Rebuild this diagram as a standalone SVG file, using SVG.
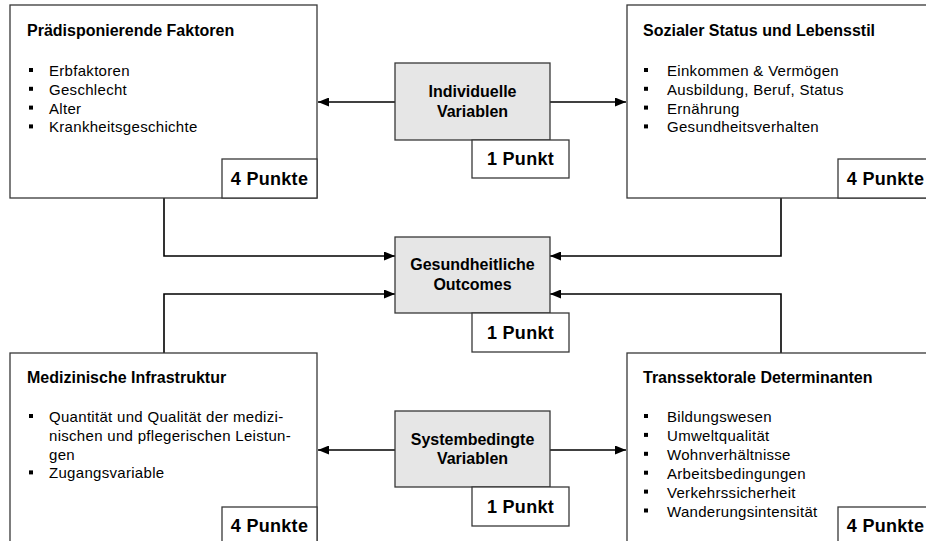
<svg xmlns="http://www.w3.org/2000/svg" width="926" height="541" viewBox="0 0 926 541">
<defs>
<style>
.box{fill:#ffffff;stroke:#383838;stroke-width:1.3}
.grey{fill:#e6e6e6;stroke:#383838;stroke-width:1.3}
.pts{fill:#ffffff;stroke:#383838;stroke-width:1.3}
.title{font-family:"Liberation Sans",Arial,sans-serif;font-size:16px;font-weight:bold;fill:#000}
.item{font-family:"Liberation Sans",Arial,sans-serif;font-size:15px;letter-spacing:0.3px;fill:#000}
.ctr{font-family:"Liberation Sans",Arial,sans-serif;font-size:16px;font-weight:bold;fill:#000;text-anchor:middle}
.ptxt{font-family:"Liberation Sans",Arial,sans-serif;font-size:18px;font-weight:bold;letter-spacing:0.3px;fill:#000;text-anchor:middle}
.bul{fill:#000}
.con{fill:none;stroke:#000;stroke-width:1.6;marker-end:url(#arr)}
</style>
<marker id="arr" viewBox="0 0 11 9" markerWidth="11" markerHeight="9" refX="11" refY="4.5" markerUnits="userSpaceOnUse" orient="auto">
<path d="M0,0 L11,4.5 L0,9 z" fill="#000"/>
</marker>
</defs>
<rect width="926" height="541" fill="#ffffff"/>

<g id="connectors">
<path class="con" d="M164,198 V256 H395"/>
<path class="con" d="M781,198 V256 H550"/>
<path class="con" d="M164,353 V294 H395"/>
<path class="con" d="M781,353 V294 H550"/>
<path class="con" d="M395,102 H318"/>
<path class="con" d="M550,102 H626"/>
<path class="con" d="M395,450 H318"/>
<path class="con" d="M550,450 H626"/>
</g>

<g id="praedisponierende-faktoren">
<rect class="box" x="10" y="5" width="307" height="193"/>
<text class="title" x="27" y="36">Prädisponierende Faktoren</text>
<rect class="bul" x="29" y="68" width="4" height="4"/>
<text class="item" x="49" y="76">Erbfaktoren</text>
<rect class="bul" x="29" y="86.8" width="4" height="4"/>
<text class="item" x="49" y="94.8">Geschlecht</text>
<rect class="bul" x="29" y="105.6" width="4" height="4"/>
<text class="item" x="49" y="113.6">Alter</text>
<rect class="bul" x="29" y="124.4" width="4" height="4"/>
<text class="item" x="49" y="132.4">Krankheitsgeschichte</text>
<rect class="pts" x="222" y="159" width="95" height="39"/>
<text class="ptxt" x="269.5" y="185">4 Punkte</text>
</g>

<g id="sozialer-status">
<rect class="box" x="627" y="5" width="307" height="193"/>
<text class="title" x="643" y="36">Sozialer Status und Lebensstil</text>
<rect class="bul" x="644" y="68" width="4" height="4"/>
<text class="item" x="667" y="76">Einkommen &amp; Vermögen</text>
<rect class="bul" x="644" y="86.8" width="4" height="4"/>
<text class="item" x="667" y="94.8">Ausbildung, Beruf, Status</text>
<rect class="bul" x="644" y="105.6" width="4" height="4"/>
<text class="item" x="667" y="113.6">Ernährung</text>
<rect class="bul" x="644" y="124.4" width="4" height="4"/>
<text class="item" x="667" y="132.4">Gesundheitsverhalten</text>
<rect class="pts" x="838" y="159" width="95" height="39"/>
<text class="ptxt" x="885.5" y="185">4 Punkte</text>
</g>

<g id="individuelle-variablen">
<rect class="grey" x="395" y="63" width="155" height="77"/>
<text class="ctr" x="472.5" y="97">Individuelle</text>
<text class="ctr" x="472.5" y="116.5">Variablen</text>
<rect class="pts" x="472" y="140" width="97" height="38"/>
<text class="ptxt" x="520.5" y="165">1 Punkt</text>
</g>

<g id="gesundheitliche-outcomes">
<rect class="grey" x="395" y="237" width="155" height="76"/>
<text class="ctr" x="472.5" y="270">Gesundheitliche</text>
<text class="ctr" x="472.5" y="289.5">Outcomes</text>
<rect class="pts" x="472" y="313" width="97" height="39"/>
<text class="ptxt" x="520.5" y="338.5">1 Punkt</text>
</g>

<g id="systembedingte-variablen">
<rect class="grey" x="395" y="411" width="155" height="76"/>
<text class="ctr" x="472.5" y="445">Systembedingte</text>
<text class="ctr" x="472.5" y="464">Variablen</text>
<rect class="pts" x="472" y="487" width="97" height="39"/>
<text class="ptxt" x="520.5" y="512.5">1 Punkt</text>
</g>

<g id="medizinische-infrastruktur">
<rect class="box" x="10" y="353" width="307" height="193"/>
<text class="title" x="27" y="383">Medizinische Infrastruktur</text>
<rect class="bul" x="29" y="414" width="4" height="4"/>
<text class="item" x="49" y="422">Quantität und Qualität der medizi-</text>
<text class="item" x="49" y="440.8">nischen und pflegerischen Leistun-</text>
<text class="item" x="49" y="459.6">gen</text>
<rect class="bul" x="29" y="470.4" width="4" height="4"/>
<text class="item" x="49" y="478.4">Zugangsvariable</text>
<rect class="pts" x="222" y="507" width="95" height="39"/>
<text class="ptxt" x="269.5" y="532">4 Punkte</text>
</g>

<g id="transsektorale-determinanten">
<rect class="box" x="627" y="353" width="307" height="193"/>
<text class="title" x="643" y="383">Transsektorale Determinanten</text>
<rect class="bul" x="644" y="414" width="4" height="4"/>
<text class="item" x="667" y="422">Bildungswesen</text>
<rect class="bul" x="644" y="432.9" width="4" height="4"/>
<text class="item" x="667" y="440.9">Umweltqualität</text>
<rect class="bul" x="644" y="451.8" width="4" height="4"/>
<text class="item" x="667" y="459.8">Wohnverhältnisse</text>
<rect class="bul" x="644" y="470.7" width="4" height="4"/>
<text class="item" x="667" y="478.7">Arbeitsbedingungen</text>
<rect class="bul" x="644" y="489.6" width="4" height="4"/>
<text class="item" x="667" y="497.6">Verkehrssicherheit</text>
<rect class="bul" x="644" y="508.5" width="4" height="4"/>
<text class="item" x="667" y="516.5">Wanderungsintensität</text>
<rect class="pts" x="838" y="507" width="95" height="39"/>
<text class="ptxt" x="885.5" y="532">4 Punkte</text>
</g>
</svg>
